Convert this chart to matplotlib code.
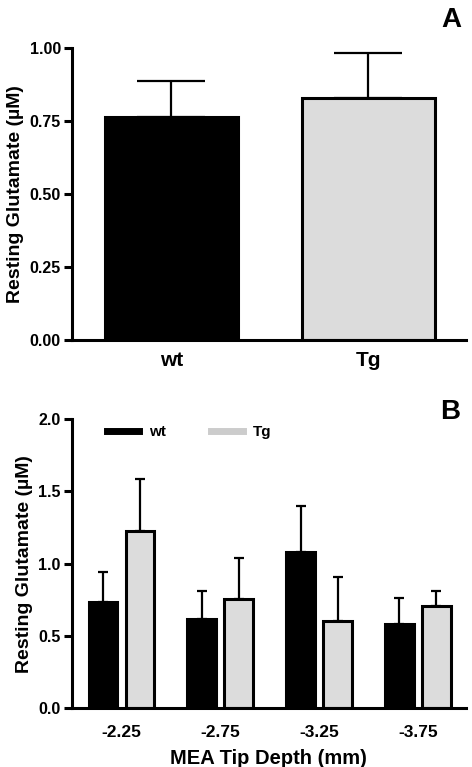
import matplotlib
matplotlib.use('Agg')
import matplotlib.pyplot as plt
from matplotlib.lines import Line2D
import numpy as np

plt.rcParams['font.family'] = ['Liberation Sans', 'DejaVu Sans']
plt.rcParams['font.weight'] = 'bold'

# panel A
groups_a = ['wt', 'Tg']
mean_a = [0.765, 0.83]
sem_a = [0.122, 0.152]

# panel B
depths = ['-2.25', '-2.75', '-3.25', '-3.75']
wt_mean = [0.736, 0.615, 1.083, 0.584]
wt_sem = [0.208, 0.198, 0.317, 0.180]
tg_mean = [1.229, 0.753, 0.605, 0.709]
tg_sem = [0.355, 0.289, 0.305, 0.104]

tg_color = '#dcdcdc'
lw = 2.2

fig = plt.figure(figsize=(4.72, 7.67), dpi=100)
ax1 = fig.add_axes([0.1525, 0.5567, 0.8345, 0.3807])
ax2 = fig.add_axes([0.1525, 0.0769, 0.8345, 0.3764])

def style(ax):
    for s in ['top', 'right']:
        ax.spines[s].set_visible(False)
    for s in ['left', 'bottom']:
        ax.spines[s].set_linewidth(lw)
    ax.tick_params(axis='y', width=lw, length=6, labelsize=11.5, pad=2)
    ax.tick_params(axis='x', length=0, pad=8)
    ax.set_ylabel('Resting Glutamate (µM)', fontsize=14, fontweight='bold', labelpad=4)

# top panel
x = np.arange(len(groups_a))
ax1.bar(x, mean_a, width=0.675, color=['black', tg_color], edgecolor='black', linewidth=lw, zorder=2)
ax1.errorbar(x, mean_a, yerr=[np.zeros(len(sem_a)), sem_a], fmt='none', ecolor='black',
             elinewidth=1.6, capsize=24.5, capthick=1.6, zorder=1)
ax1.set_xlim(-0.505, 1.495)
ax1.set_ylim(0, 1.0)
ax1.set_yticks([0, 0.25, 0.5, 0.75, 1.0])
ax1.set_yticklabels(['0.00', '0.25', '0.50', '0.75', '1.00'])
ax1.set_xticks(x)
ax1.set_xticklabels(groups_a, fontsize=15)
style(ax1)
fig.text(0.957, 0.974, 'A', fontsize=20, fontweight='bold', ha='center', va='center')

# bottom panel
xb = np.arange(len(depths))
off = 0.187
w = 0.29
ax2.bar(xb - off, wt_mean, width=w, color='black', edgecolor='black', linewidth=lw, zorder=2)
ax2.bar(xb + off, tg_mean, width=w, color=tg_color, edgecolor='black', linewidth=lw, zorder=2)
ax2.errorbar(xb - off, wt_mean, yerr=[np.zeros(4), wt_sem], fmt='none', ecolor='black',
             elinewidth=1.6, capsize=3.8, capthick=1.6, zorder=1)
ax2.errorbar(xb + off, tg_mean, yerr=[np.zeros(4), tg_sem], fmt='none', ecolor='black',
             elinewidth=1.6, capsize=3.8, capthick=1.6, zorder=1)
ax2.set_xlim(-0.50, 3.486)
ax2.set_ylim(0, 2.0)
ax2.set_yticks([0, 0.5, 1.0, 1.5, 2.0])
ax2.set_yticklabels(['0.0', '0.5', '1.0', '1.5', '2.0'])
ax2.set_xticks(xb)
ax2.set_xticklabels(depths, fontsize=12.5)
style(ax2)
ax2.tick_params(axis='x', pad=12)
ax2.set_xlabel('MEA Tip Depth (mm)', fontsize=14.5, fontweight='bold')
ax2.xaxis.set_label_coords(0.5, -0.194)
ax2.xaxis.label.set_va('baseline')
handles = [Line2D([0], [0], color='black', lw=5), Line2D([0], [0], color='#cccccc', lw=5)]
ax2.legend(handles, ['wt', 'Tg'], ncol=2, frameon=False, loc='center left',
           bbox_to_anchor=(0.055, 0.955), handlelength=2.1, handletextpad=0.6,
           columnspacing=3.0, prop={'weight': 'bold', 'size': 11})
fig.text(0.953, 0.463, 'B', fontsize=20, fontweight='bold', ha='center', va='center')

plt.savefig('out.png', dpi=100)
